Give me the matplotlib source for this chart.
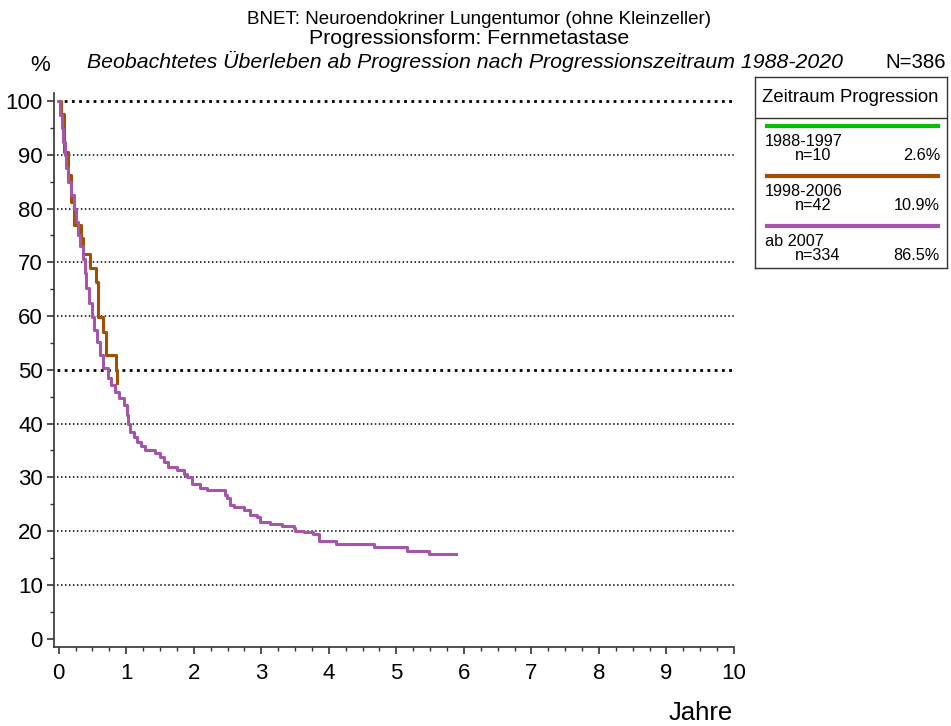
import numpy as np
import matplotlib
matplotlib.use("Agg")
from matplotlib import pyplot as plt

plt.rcParams['font.family'] = ['Liberation Sans', 'DejaVu Sans']

# survival curves (years, percent), step drops
t_1998 = [0, 0.04, 0.08, 0.14, 0.18, 0.22, 0.33, 0.36, 0.47, 0.55, 0.58, 0.66, 0.70, 0.845, 0.87]
s_1998 = [100, 97.6, 90.5, 86.2, 81.3, 76.9, 74.5, 71.5, 68.9, 66.4, 59.9, 57.1, 52.7, 50.0, 47.5]

t_2007 = [0, 0.02, 0.044, 0.07, 0.093, 0.115, 0.14, 0.18, 0.22, 0.255, 0.29, 0.32, 0.36, 0.385,
          0.41, 0.45, 0.49, 0.52, 0.56, 0.61, 0.66, 0.73, 0.78, 0.83, 0.90, 0.96, 1.01, 1.03,
          1.06, 1.11, 1.16, 1.22, 1.28, 1.42, 1.50, 1.56, 1.62, 1.75, 1.85, 1.90, 1.97, 2.09,
          2.19, 2.46, 2.49, 2.54, 2.60, 2.75, 2.83, 2.93, 2.98, 3.13, 3.30, 3.48, 3.50, 3.63,
          3.76, 3.85, 4.11, 4.67, 5.16, 5.49, 5.89]
s_2007 = [100, 97.5, 94.9, 92.4, 90.0, 87.5, 85.0, 82.5, 80.0, 77.5, 75.0, 73.0, 70.7, 68.0,
          65.2, 62.5, 59.9, 57.5, 55.2, 52.7, 50.3, 48.4, 47.2, 45.9, 44.8, 43.4, 41.6, 40.0,
          38.5, 37.5, 36.6, 35.8, 35.1, 34.6, 33.7, 32.8, 31.9, 31.3, 30.6, 30.1, 28.7, 28.1,
          27.6, 26.8, 26.1, 24.9, 24.4, 23.9, 23.0, 22.7, 21.7, 21.3, 20.9, 20.5, 20.1, 19.9,
          19.4, 18.1, 17.6, 17.1, 16.3, 15.7, 15.7]

groups = ['1988-1997', '1998-2006', 'ab 2007']
n_vals = ['n=10', 'n=42', 'n=334']
pcts = ['2.6%', '10.9%', '86.5%']
colors = ['#00c000', '#a05000', '#a555aa']

W, H = 951, 726
fig = plt.figure(figsize=(W / 100, H / 100), dpi=100)

def px(x, y):
    return x / W, 1 - y / H

# main axes
l, b = px(54, 646.7)
r, t = px(736, 93)
ax = fig.add_axes([l, b, r - l, t - b])
ax.set_xlim(-0.07, 10.03)
ax.set_ylim(-1.5, 101.5)

for yv in range(10, 101, 10):
    lw = 2.0 if yv in (50, 100) else 1.1
    ax.plot([-0.03, 10.03], [yv, yv], color='black', lw=lw, ls=(0, (1, 1.6)), zorder=1)

ax.plot(t_1998, s_1998, drawstyle='steps-post', color=colors[1], lw=2.2, zorder=3)
ax.plot(t_2007, s_2007, drawstyle='steps-post', color=colors[2], lw=2.2, zorder=4)

ax.spines['top'].set_visible(False)
ax.spines['right'].set_visible(False)
ax.spines['bottom'].set_bounds(-0.07, 10)
for sp in ('left', 'bottom'):
    ax.spines[sp].set_linewidth(1.2)
    ax.spines[sp].set_color('#333333')

ax.set_xticks(range(0, 11))
ax.set_xticks(np.arange(0, 10.01, 0.25), minor=True)
ax.set_yticks(range(0, 101, 10))
ax.set_yticks(range(5, 100, 10), minor=True)
ax.tick_params(axis='both', which='major', length=5, width=1.2, labelsize=16, colors='#333333', labelcolor='black')
ax.tick_params(axis='both', which='minor', length=3, width=1.0, colors='#333333')
ax.tick_params(axis='x', which='major', pad=7)
ax.tick_params(axis='y', which='major', pad=3)

# titles
fig.text(*px(479, 24), 'BNET: Neuroendokriner Lungentumor (ohne Kleinzeller)', ha='center', va='baseline', fontsize=13.5)
fig.text(*px(469, 44), 'Progressionsform: Fernmetastase', ha='center', va='baseline', fontsize=15.3)
fig.text(*px(465, 68), 'Beobachtetes Überleben ab Progression nach Progressionszeitraum 1988-2020',
         ha='center', va='baseline', fontsize=15.3, style='italic')
fig.text(*px(40, 71), '%', ha='center', va='baseline', fontsize=16)
fig.text(*px(946, 68), 'N=386', ha='right', va='baseline', fontsize=14.7)
fig.text(*px(733, 720), 'Jahre', ha='right', va='baseline', fontsize=18.5)

# legend box
lx0, ly0 = px(755, 268)
lx1, ly1 = px(947, 77)
lg = fig.add_axes([lx0, ly0, lx1 - lx0, ly1 - ly0])
lg.set_xlim(0, 192)
lg.set_ylim(191, 0)
lg.set_xticks([])
lg.set_yticks([])
for sp in lg.spines.values():
    sp.set_linewidth(1.0)
    sp.set_color('#333333')
lg.axhline(41, color='#333333', lw=1.0)
lg.text(95, 20, 'Zeitraum Progression', ha='center', va='center', fontsize=13.3)
for i in range(3):
    y0 = 49 + i * 50
    lg.plot([10, 185], [y0, y0], color=colors[i], lw=3, solid_capstyle='butt')
    lg.text(10, y0 + 15, groups[i], ha='left', va='center', fontsize=11.7)
    lg.text(40, y0 + 30, n_vals[i], ha='left', va='center', fontsize=11.7)
    lg.text(185, y0 + 30, pcts[i], ha='right', va='center', fontsize=11.7)

fig.savefig('out.png', dpi=100)
